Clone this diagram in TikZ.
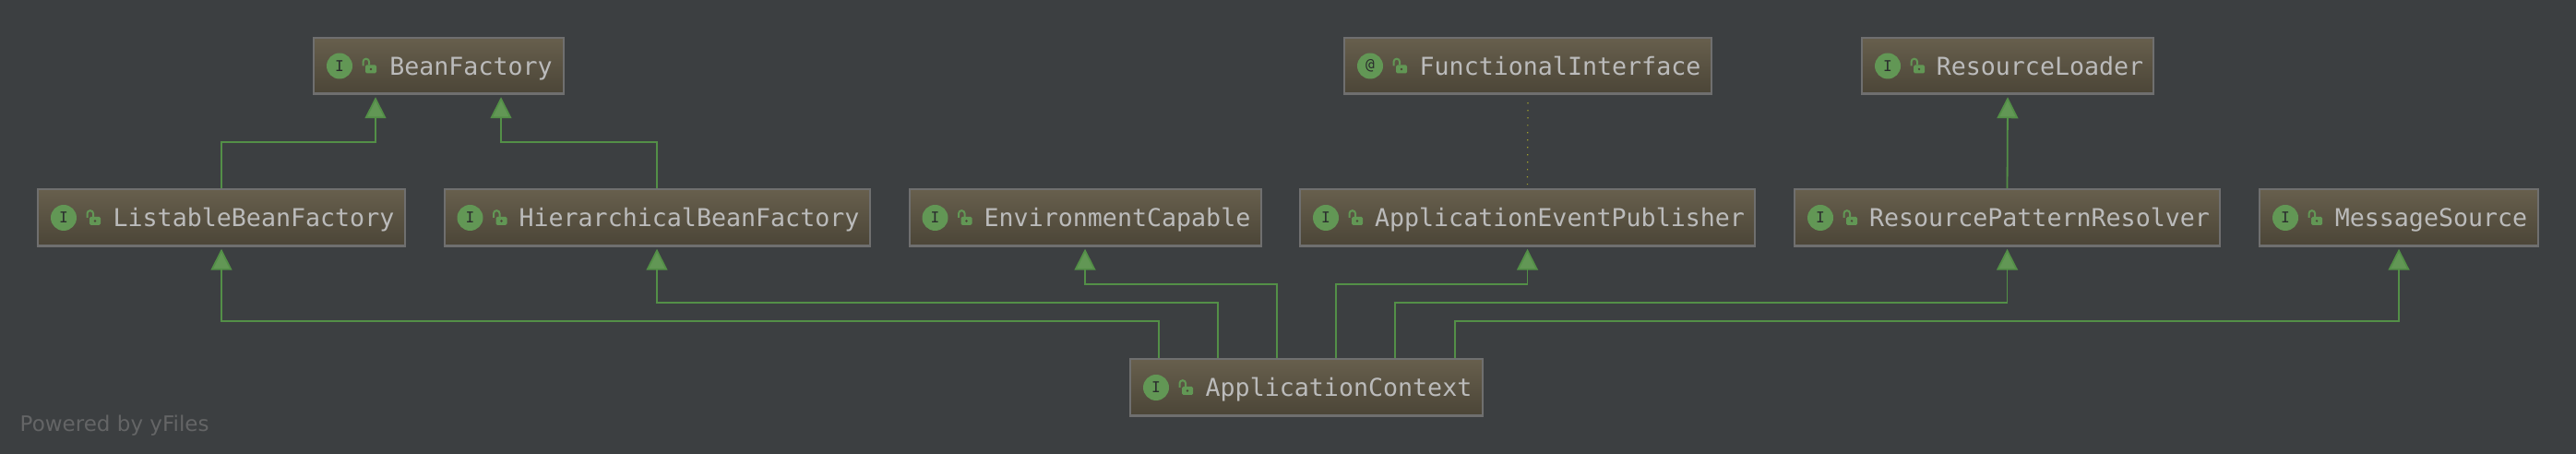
\documentclass[tikz,border=0pt]{standalone}
\usepackage{fontspec}
\setmainfont{DejaVu Sans}
\setmonofont{DejaVu Sans Mono}
\usepackage{xcolor}
\usetikzlibrary{arrows.meta,calc,positioning}
\definecolor{canvas}{HTML}{3C3F41}
\definecolor{boxtop}{HTML}{675F4D}
\definecolor{boxbot}{HTML}{4B4537}
\definecolor{boxedge}{HTML}{6F6F6F}
\definecolor{label}{HTML}{BBBBBB}
\definecolor{icon}{HTML}{629755}
\definecolor{link}{HTML}{538F47}
\definecolor{annot}{HTML}{A0A02C}
\definecolor{muted}{HTML}{646566}
\tikzset{
  classbox/.style={draw=boxedge, top color=boxtop, bottom color=boxbot, line width=0.02cm,
                   minimum height=0.615cm, inner sep=0pt, text=label, text height=0.25cm,
                   text depth=0.05cm, font=\ttfamily\fontsize{7.58}{9}\selectfont},
  badge/.style={circle, fill=icon, minimum size=0.28cm, inner sep=0pt, text=canvas!70!black,
                font=\ttfamily\fontsize{4.6}{5}\selectfont},
  implarrow/.style={-{Triangle[length=0.23cm,width=0.23cm,fill=icon]}, line width=0.018cm,
                    draw=link, shorten >=0.02cm},
  annotline/.style={draw=annot, line width=0.012cm, dash pattern=on 0.012cm off 0.068cm},
  lockicon/.pic={
    \fill[icon,rounded corners=0.015cm] (-0.04,-0.08) rectangle (0.08,0.01);
    \draw[icon,line width=0.02cm] (-0.065,0) -- (-0.065,0.045) arc[start angle=180,end angle=0,radius=0.033] -- (0.001,0.01);
    \fill[boxbot] (0.02,-0.035) circle[radius=0.013];
  }
}

\begin{document}
\begin{tikzpicture}[x=1cm,y=1cm]
  \fill[canvas] (0,0) rectangle (27.92,4.92);
  \useasboundingbox (0,0) rectangle (27.92,4.92);
  % class boxes
  \foreach \id/\x/\y/\w/\kind/\lab in {
      beanfactory/4.755/4.205/2.71/I/BeanFactory,
      funcinterface/16.56/4.205/3.98/@/FunctionalInterface,
      resloader/21.76/4.205/3.16/I/ResourceLoader,
      listable/2.40/2.56/3.98/I/ListableBeanFactory,
      hierarchical/7.12/2.56/4.61/I/HierarchicalBeanFactory,
      envcapable/11.76/2.56/3.81/I/EnvironmentCapable,
      eventpub/16.555/2.56/4.93/I/ApplicationEventPublisher,
      respattern/21.755/2.56/4.61/I/ResourcePatternResolver,
      msgsource/26.00/2.56/3.02/I/MessageSource,
      appcontext/14.16/0.72/3.82/I/ApplicationContext} {
    \node[classbox,minimum width=\w cm] (\id) at (\x,\y) {\hspace*{0.70cm}\lab};
    \draw[boxedge,line width=0.03cm] ([yshift=0.015cm]\id.south west) -- ([yshift=0.015cm]\id.south east);
    \node[badge] (\id-badge) at ([xshift=0.29cm]\id.west) {\kind};
    \pic at ([xshift=0.61cm]\id.west) {lockicon};
  }
  % upper links
  \draw[implarrow] (listable.north) -- ++(0,0.50) -| ([xshift=-0.685cm]beanfactory.south);
  \draw[implarrow] (hierarchical.north) -- ++(0,0.50) -| ([xshift=0.675cm]beanfactory.south);
  \draw[implarrow] (respattern.north) -- (resloader.south);
  \draw[annotline] ([yshift=-0.08cm]funcinterface.south) -- ([yshift=0.04cm]eventpub.north);
  % links out of the context box
  \foreach \off/\rise/\dest in {0.32/0.40/listable,0.96/0.60/hierarchical,1.60/0.80/envcapable,
      2.24/0.80/eventpub,2.88/0.60/respattern,3.53/0.40/msgsource}
    {\draw[implarrow] ([xshift=\off cm]appcontext.north west) -- ++(0,\rise) -| (\dest.south);}
  \node[text=muted,font=\fontsize{6.55}{8}\selectfont,anchor=west,inner sep=0pt] (poweredby) at (0.21,0.31) {Powered by yFiles};
\end{tikzpicture}
\end{document}
